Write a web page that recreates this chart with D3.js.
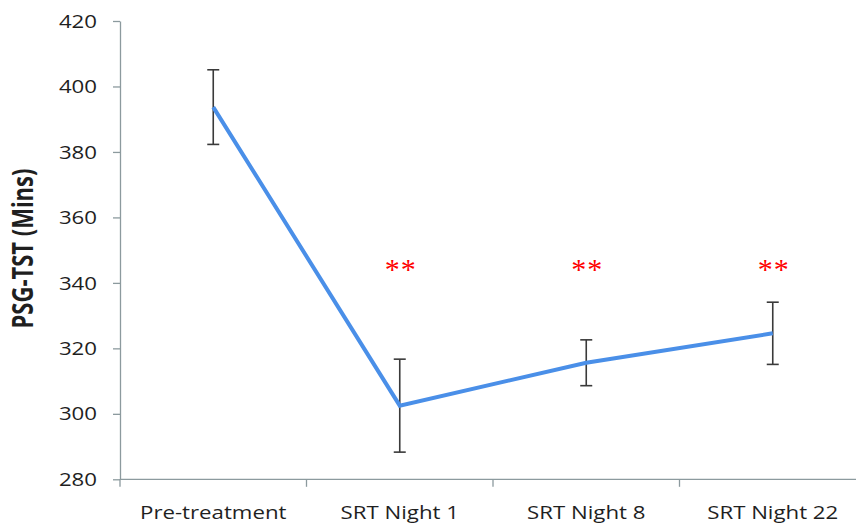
<!DOCTYPE html>
<html>
<head>
<meta charset="utf-8">
<script src="https://cdn.jsdelivr.net/npm/d3@7"></script>
<style>
  html, body { margin: 0; padding: 0; background: #fff; }
  svg { display: block; }
  text { font-family: "Open Sans", sans-serif; fill: #1f1f1f; }
</style>
</head>
<body>
<svg id="chart" width="856" height="529"></svg>
<script>
// PSG total sleep time across treatment timepoints
const categories = ["Pre-treatment", "SRT Night 1", "SRT Night 8", "SRT Night 22"];
const meanTST = [393.7, 302.5, 315.6, 324.6];
const errorTST = [11.4, 14.2, 7.0, 9.5];
const significance = ["", "**", "**", "**"];
const yTicks = [280, 300, 320, 340, 360, 380, 400, 420];

(function () {
  const W = 856;
  const plotLeft = 120, plotTop = 21, plotBottom = 479.3, bandRight = 866;
  const axisColor = "#8c9a9e";
  const stretch = 1.27;
  const sigLevel = 345.5; // value at which the significance stars are centred

  const svg = d3.select("#chart");

  const x = d3.scaleBand().domain(categories).range([plotLeft, bandRight]).padding(0);
  const y = d3.scaleLinear().domain([280, 420]).range([plotBottom, plotTop]);
  const cx = d => x(d) + x.bandwidth() / 2;

  // y axis
  const yAxis = svg.append("g")
    .attr("transform", `translate(${plotLeft},0)`)
    .call(d3.axisLeft(y).tickValues(yTicks).tickSize(7).tickSizeOuter(0));
  yAxis.select(".domain").attr("stroke", axisColor).attr("stroke-width", 1.3);
  yAxis.selectAll(".tick line").attr("stroke", axisColor).attr("stroke-width", 1.3);
  yAxis.selectAll(".tick text")
    .attr("x", null).attr("dy", "0.35em")
    .attr("transform", `translate(-23,0) scale(${stretch},1)`)
    .attr("text-anchor", "end")
    .style("font-size", "17.5px").style("fill", "#1f1f1f")
    .style("font-family", '"Open Sans", sans-serif');

  // x axis: baseline, band-boundary ticks and category labels
  const xAxis = svg.append("g").attr("transform", `translate(0,${plotBottom})`);
  xAxis.append("line")
    .attr("x1", plotLeft).attr("x2", W)
    .attr("stroke", axisColor).attr("stroke-width", 1.3);
  const boundaries = categories.map(c => x(c)).concat([x.range()[1]]);
  xAxis.selectAll("line.tick").data(boundaries).join("line")
    .attr("class", "tick")
    .attr("x1", d => d).attr("x2", d => d)
    .attr("y1", 0).attr("y2", 7.5)
    .attr("stroke", axisColor).attr("stroke-width", 1.3);
  xAxis.selectAll("text").data(categories).join("text")
    .attr("transform", d => `translate(${cx(d)},40) scale(${stretch},1)`)
    .attr("text-anchor", "middle")
    .style("font-size", "17.5px")
    .text(d => d);

  // y axis title
  svg.append("text")
    .attr("transform", `translate(33,248.5) scale(${stretch},1) rotate(-90)`)
    .attr("text-anchor", "middle")
    .style("font-size", "22px").style("font-weight", "bold")
    .text("PSG-TST (Mins)");

  // error bars
  const data = categories.map((c, i) => ({ c, m: meanTST[i], e: errorTST[i], s: significance[i] }));
  const eb = svg.append("g").attr("stroke", "#3a3a3a").attr("stroke-width", 1.6);
  eb.selectAll("line.v").data(data).join("line")
    .attr("class", "v")
    .attr("x1", d => cx(d.c)).attr("x2", d => cx(d.c))
    .attr("y1", d => y(d.m + d.e)).attr("y2", d => y(d.m - d.e));
  eb.selectAll("line.top").data(data).join("line")
    .attr("class", "top")
    .attr("x1", d => cx(d.c) - 6).attr("x2", d => cx(d.c) + 6)
    .attr("y1", d => y(d.m + d.e)).attr("y2", d => y(d.m + d.e));
  eb.selectAll("line.bot").data(data).join("line")
    .attr("class", "bot")
    .attr("x1", d => cx(d.c) - 6).attr("x2", d => cx(d.c) + 6)
    .attr("y1", d => y(d.m - d.e)).attr("y2", d => y(d.m - d.e));

  // mean line
  svg.append("path")
    .datum(data)
    .attr("fill", "none")
    .attr("stroke", "#4a8fe8")
    .attr("stroke-width", 4)
    .attr("stroke-linejoin", "miter")
    .attr("d", d3.line().x(d => cx(d.c)).y(d => y(d.m)));

  // significance markers
  svg.selectAll("text.sig").data(data.filter(d => d.s)).join("text")
    .attr("class", "sig")
    .attr("transform", d => `translate(${cx(d.c) + 1},${y(sigLevel)})`)
    .attr("dy", "0.46em")
    .attr("text-anchor", "middle")
    .style("font-size", "30px").style("fill", "#ff0000")
    .style("font-family", '"Liberation Serif", serif')
    .style("letter-spacing", "1px")
    .text(d => d.s);
})();
</script>
</body>
</html>
